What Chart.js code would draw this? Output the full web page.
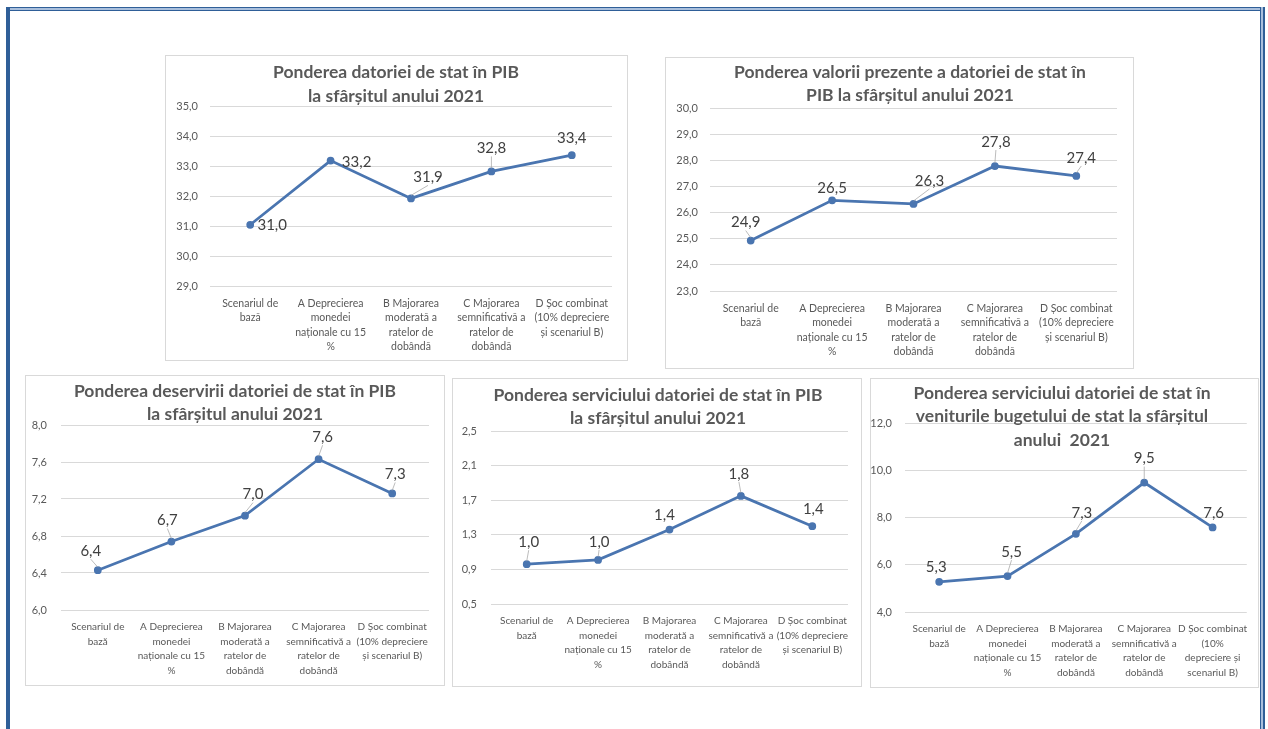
<!DOCTYPE html>
<html>
<head>
<meta charset="utf-8">
<script src="https://cdn.jsdelivr.net/npm/chart.js@4.4.0/dist/chart.umd.min.js"></script>
<style>
    body { margin: 0; width: 1268px; height: 729px; position: relative; overflow: hidden; background: #fff; font-family: Lato, sans-serif; }
    .frame-top { position: absolute; left: 6px; top: 7px; width: 1259px; height: 4px; background: linear-gradient(#2f5f98 0 1px, #a9bfdc 1px 3px, #2f5f98 3px 4px); }
    .frame-left { position: absolute; left: 6px; top: 7px; width: 4px; height: 722px; background: #2f5f98; }
    .frame-right { position: absolute; left: 1260px; top: 7px; width: 5px; height: 722px; background: linear-gradient(90deg, #2f5f98 0 1px, #a9bfdc 1px 3px, #2f5f98 3px 5px); }
    .box { position: absolute; border: 1px solid #d9d9d9; background: #fff; box-sizing: border-box; }
    .box canvas { display: block; }
</style>
</head>
<body>
<div class="frame-top"></div>
<div class="frame-left"></div>
<div class="frame-right"></div>

<div class="box" style="left:165px;top:55px;width:463px;height:306px"><canvas id="chart1"></canvas></div>
<div class="box" style="left:665px;top:57px;width:469px;height:312px"><canvas id="chart2"></canvas></div>
<div class="box" style="left:25px;top:375px;width:420px;height:311px"><canvas id="chart3"></canvas></div>
<div class="box" style="left:452px;top:378px;width:410px;height:309px"><canvas id="chart4"></canvas></div>
<div class="box" style="left:870px;top:378px;width:389px;height:310px"><canvas id="chart5"></canvas></div>

<script>
// categorii (scenarii)
const scenarii = [
    ['Scenariul de', 'bază'],
    ['A Deprecierea', 'monedei', 'naționale cu 15', '%'],
    ['B Majorarea', 'moderată a', 'ratelor de', 'dobândă'],
    ['C Majorarea', 'semnificativă a', 'ratelor de', 'dobândă'],
    ['D Șoc combinat', '(10% depreciere', 'și scenariul B)']
];
const scenariiVenituri = [
    ['Scenariul de', 'bază'],
    ['A Deprecierea', 'monedei', 'naționale cu 15', '%'],
    ['B Majorarea', 'moderată a', 'ratelor de', 'dobândă'],
    ['C Majorarea', 'semnificativă a', 'ratelor de', 'dobândă'],
    ['D Șoc combinat', '(10%', 'depreciere și', 'scenariul B)']
];

// valori (%)
const datorieValues = [31.04, 33.18, 31.92, 32.82, 33.36];
const valoarePrezentaValues = [24.93, 26.47, 26.33, 27.78, 27.40];
const deservireValues = [6.43, 6.74, 7.02, 7.63, 7.26];
const serviciuPibValues = [0.96, 1.01, 1.36, 1.75, 1.40];
const serviciuVenituriValues = [5.28, 5.52, 7.31, 9.48, 7.58];

// gradatii axa Y
const datorieTicks = [29, 30, 31, 32, 33, 34, 35];
const valoarePrezentaTicks = [23, 24, 25, 26, 27, 28, 29, 30];
const deservireTicks = [6.0, 6.4, 6.8, 7.2, 7.6, 8.0];
const serviciuPibTicks = [0.5, 0.9, 1.3, 1.7, 2.1, 2.5];
const serviciuVenituriTicks = [4, 6, 8, 10, 12];

const lineColor = '#4a75b0';
const textGray = '#595959';

function fmt(v) {
    return v.toFixed(1).replace('.', ',');
}

// titlul graficului, desenat peste zona graficului (ca in Excel)
const boxTitle = {
    id: 'boxTitle',
    afterDraw(chart, args, opts) {
        const ctx = chart.ctx;
        ctx.save();
        ctx.font = 'bold 17.5px Lato, sans-serif';
        ctx.fillStyle = textGray;
        ctx.textAlign = 'center';
        ctx.textBaseline = 'middle';
        opts.lines.forEach((t, i) => {
            ctx.fillText(t, opts.x, opts.y + i * opts.gap);
        });
        ctx.restore();
    }
};

// etichete de date deasupra punctelor (+ linie de legatura cand eticheta e mutata)
const pointLabels = {
    id: 'pointLabels',
    afterDatasetsDraw(chart, args, opts) {
        const ctx = chart.ctx;
        const meta = chart.getDatasetMeta(0);
        const values = chart.data.datasets[0].data;
        ctx.save();
        ctx.font = '15px Lato, sans-serif';
        ctx.textAlign = 'center';
        ctx.textBaseline = 'middle';
        meta.data.forEach((pt, i) => {
            const off = opts.offsets[i];
            const lx = pt.x + off[0];
            const ly = pt.y + off[1];
            if (off[1] <= -18) {
                ctx.strokeStyle = '#a6a6a6';
                ctx.lineWidth = 0.75;
                ctx.beginPath();
                ctx.moveTo(lx, ly + 8);
                ctx.lineTo(pt.x, pt.y - 3);
                ctx.stroke();
            }
            ctx.fillStyle = '#404040';
            ctx.fillText(fmt(values[i]), lx, ly);
        });
        ctx.restore();
    }
};

function makeChart(id, cfg) {
    const ctx = document.getElementById(id).getContext('2d');
    return new Chart(ctx, {
        type: 'line',
        data: {
            labels: cfg.labels,
            datasets: [{
                data: cfg.values,
                borderColor: lineColor,
                backgroundColor: lineColor,
                borderWidth: 2.75,
                pointRadius: 2.5,
                pointHoverRadius: 2.5,
                tension: 0
            }]
        },
        plugins: [pointLabels, boxTitle],
        options: {
            responsive: true,
            maintainAspectRatio: false,
            animation: false,
            layout: { padding: cfg.padding },
            plugins: {
                legend: { display: false },
                tooltip: { enabled: false },
                title: { display: false },
                boxTitle: cfg.title,
                pointLabels: { offsets: cfg.offsets }
            },
            scales: {
                x: {
                    offset: true,
                    grid: { display: false, drawTicks: false },
                    border: { display: false },
                    ticks: {
                        color: textGray,
                        font: { family: 'Lato', size: cfg.xFont, lineHeight: 14.5 / cfg.xFont },
                        maxRotation: 0,
                        autoSkip: false,
                        padding: 10
                    }
                },
                y: {
                    min: cfg.ticks[0],
                    max: cfg.ticks[cfg.ticks.length - 1],
                    afterBuildTicks: function (scale) {
                        scale.ticks = cfg.ticks.map(v => ({ value: v }));
                    },
                    afterFit: function (scale) {
                        scale.width = cfg.yWidth;
                    },
                    grid: { color: '#d9d9d9', drawTicks: false },
                    border: { display: false },
                    ticks: {
                        color: textGray,
                        font: { family: 'Lato', size: 11 },
                        padding: cfg.yPad,
                        callback: function (value) {
                            return fmt(value);
                        }
                    }
                }
            }
        }
    });
}

document.addEventListener('DOMContentLoaded', function () {
    makeChart('chart1', {
        title: { lines: ['Ponderea datoriei de stat în PIB', 'la sfârșitul anului 2021'], x: 230, y: 16, gap: 24 },
        labels: scenarii,
        values: datorieValues,
        ticks: datorieTicks,
        padding: { left: 0, right: 15, top: 50, bottom: -4 },
        xFont: 10.5,
        yWidth: 44,
        yPad: 12,
        offsets: [[22, 0], [26, 2], [17, -21], [0, -23], [0, -17]]
    });

    makeChart('chart2', {
        title: { lines: ['Ponderea valorii prezente a datoriei de stat în', 'PIB la sfârșitul anului 2021'], x: 244, y: 14, gap: 23 },
        labels: scenarii,
        values: valoarePrezentaValues,
        ticks: valoarePrezentaTicks,
        padding: { left: 0, right: 16, top: 50, bottom: -1 },
        xFont: 10.5,
        yWidth: 44,
        yPad: 12,
        offsets: [[-5, -18], [0, -12], [16, -23], [1, -24], [5, -18]]
    });

    makeChart('chart3', {
        title: { lines: ['Ponderea deservirii datoriei de stat în PIB', 'la sfârșitul anului 2021'], x: 209, y: 15, gap: 23 },
        labels: scenarii,
        values: deservireValues,
        ticks: deservireTicks,
        padding: { left: 0, right: 15, top: 49, bottom: -3 },
        xFont: 10,
        yWidth: 35,
        yPad: 14,
        offsets: [[-7, -19], [-4, -21], [8, -21], [4, -22], [3, -19]]
    });

    makeChart('chart4', {
        title: { lines: ['Ponderea serviciului datoriei de stat în PIB', 'la sfârșitul anului 2021'], x: 205, y: 16, gap: 23 },
        labels: scenarii,
        values: serviciuPibValues,
        ticks: serviciuPibTicks,
        padding: { left: 0, right: 13, top: 52, bottom: 4 },
        xFont: 10,
        yWidth: 38,
        yPad: 14,
        offsets: [[2, -22], [1, -18], [-5, -14], [-2, -22], [1, -17]]
    });

    makeChart('chart5', {
        title: { lines: ['Ponderea serviciului datoriei de stat în', 'veniturile bugetului de stat la sfârșitul', 'anului  2021'], x: 191, y: 14, gap: 23.5 },
        labels: scenariiVenituri,
        values: serviciuVenituriValues,
        ticks: serviciuVenituriTicks,
        padding: { left: 0, right: 8, top: 44, bottom: -3 },
        xFont: 10,
        yWidth: 34,
        yPad: 13,
        offsets: [[-3, -15], [4, -24], [6, -21], [0, -24], [1, -14]]
    });
});
</script>
</body>
</html>
